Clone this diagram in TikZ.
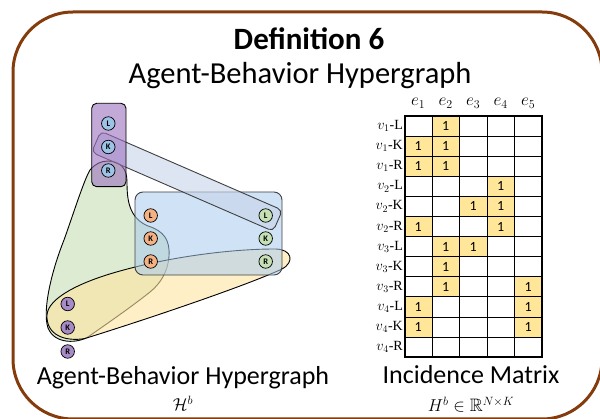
\documentclass[tikz,border=0pt]{standalone}
\usepackage{amsmath}
\usepackage{amssymb}
\usepackage{fontspec}
\setmainfont{Carlito}
\newfontfamily\cellfont{Liberation Serif}
\usetikzlibrary{backgrounds,calc}

\definecolor{framebrown}{HTML}{843C0C}
\definecolor{vblue}{HTML}{9DC3E6}
\definecolor{vorange}{HTML}{F4B183}
\definecolor{vgreen}{HTML}{C5E0B4}
\definecolor{vpurple}{HTML}{A78BC6}
\definecolor{edgepurple}{HTML}{9B70BE}
\definecolor{edgegreen}{HTML}{C6DEB6}
\definecolor{edgeyellow}{HTML}{FDE4A0}
\definecolor{edgeblue}{HTML}{A9CBEE}
\definecolor{edgeband}{HTML}{C8D4E9}
\definecolor{cellyellow}{HTML}{FFE699}

\begin{document}
\begin{tikzpicture}[x=1pt, y=-1pt,
  vtx/.style={circle, draw=black, line width=0.7pt, minimum size=13.5pt, inner sep=0pt, font=\fontsize{8.5}{8.5}\selectfont\bfseries},
  hedge/.style={draw=black, line width=0.9pt, fill opacity=0.6},
  cell/.style={fill=cellyellow, minimum width=27.5pt, minimum height=20.1pt, inner sep=0pt, font=\fontsize{14}{14}\selectfont},
  rowlab/.style={anchor=east, inner sep=1pt, font=\cellfont\fontsize{14}{14}\selectfont},
  collab/.style={anchor=base, font=\fontsize{17}{17}\selectfont},
  caption/.style={anchor=base, inner sep=0pt, font=\fontsize{26}{26}\selectfont},
  capsym/.style={anchor=base, inner sep=0pt, font=\fontsize{18}{18}\selectfont}]
  \useasboundingbox (0,0) rectangle (600,419);
  \draw[framebrown, line width=3pt, rounded corners=60pt] (13,12) rectangle (602,419);
  % titles
  \node[anchor=base, font=\fontsize{31}{31}\selectfont\bfseries] (deftitle) at (309,50) {Definition 6};
  \node[anchor=base, font=\fontsize{30.5}{30.5}\selectfont] (subtitle) at (300,84) {Agent-Behavior Hypergraph};
  % agents
  \node[vtx, fill=vblue] (v1L) at (108.3,123.5) {L};
  \node[vtx, fill=vblue] (v1K) at (108.3,147) {K};
  \node[vtx, fill=vblue] (v1R) at (108.3,170.5) {R};
  \node[vtx, fill=vorange] (v2L) at (150.7,215.5) {L};
  \node[vtx, fill=vorange] (v2K) at (150.7,238.5) {K};
  \node[vtx, fill=vorange] (v2R) at (150.7,261.5) {R};
  \node[vtx, fill=vgreen] (v3L) at (265.7,215.5) {L};
  \node[vtx, fill=vgreen] (v3K) at (265.7,238.5) {K};
  \node[vtx, fill=vgreen] (v3R) at (265.7,261.5) {R};
  \node[vtx, fill=vpurple] (v4L) at (67.7,304) {L};
  \node[vtx, fill=vpurple] (v4K) at (67.7,327.5) {K};
  \node[vtx, fill=vpurple] (v4R) at (67.7,351.5) {R};
  % hyperedges
  \begin{scope}[on background layer]
    \draw[hedge, fill=edgegreen] (108,161)
      .. controls (120,161) and (127,168) .. (127,182)
      .. controls (127,200) and (129,218) .. (148,226)
      .. controls (164,231) and (170,240) .. (169,256)
      .. controls (168,272) and (160,284) .. (150,292)
      .. controls (130,308) and (105,325) .. (88,337)
      .. controls (78,343) and (55,345) .. (48,328)
      .. controls (42,310) and (52,270) .. (64,240)
      .. controls (74,212) and (84,180) .. (90,170)
      .. controls (95,164) and (101,161) .. (108,161) -- cycle;
    \draw[hedge, fill=edgeyellow] (85,338.5)
      .. controls (65,342) and (46,335) .. (47,315)
      .. controls (48,298) and (80,282) .. (120,271)
      .. controls (170,257) and (230,249) .. (275,249)
      .. controls (292,249) and (295,262) .. (282,269)
      .. controls (250,284) and (160,315) .. (85,338.5) -- cycle;
    \draw[hedge, draw=black!75, fill=edgeblue, fill opacity=0.55, rounded corners=8pt] (135,192) rectangle (282,275);
    \node[hedge, draw=black!75, fill=edgeband, rounded corners=5pt, rotate=-23.5, minimum width=198pt, minimum height=23pt] (band) at ($(v1K)!0.5!(v3L)$) {};
    \draw[hedge, fill=edgepurple, rounded corners=5pt] (91.7,103.3) rectangle (126,186.7);
  \end{scope}
  \node[caption] (hglabel) at (183,385) {Agent-Behavior Hypergraph};
  \node[capsym] (hgsym) at (183,411) {$\mathcal{H}^b$};
  % incidence matrix
  \node[cell] (c1-2) at (445.75,126.05) {1};
  \node[cell] (c2-1) at (418.25,146.15) {1};
  \node[cell] (c2-2) at (445.75,146.15) {1};
  \node[cell] (c3-1) at (418.25,166.25) {1};
  \node[cell] (c3-2) at (445.75,166.25) {1};
  \node[cell] (c4-4) at (500.75,186.35) {1};
  \node[cell] (c5-3) at (473.25,206.45) {1};
  \node[cell] (c5-4) at (500.75,206.45) {1};
  \node[cell] (c6-1) at (418.25,226.55) {1};
  \node[cell] (c6-4) at (500.75,226.55) {1};
  \node[cell] (c7-2) at (445.75,246.65) {1};
  \node[cell] (c7-3) at (473.25,246.65) {1};
  \node[cell] (c8-2) at (445.75,266.75) {1};
  \node[cell] (c9-2) at (445.75,286.85) {1};
  \node[cell] (c9-5) at (528.25,286.85) {1};
  \node[cell] (c10-1) at (418.25,306.95) {1};
  \node[cell] (c10-5) at (528.25,306.95) {1};
  \node[cell] (c11-1) at (418.25,327.05) {1};
  \node[cell] (c11-5) at (528.25,327.05) {1};
  \draw[black, line width=0.8pt] (404.5,136.1) -- (542,136.1);
  \draw[black, line width=0.8pt] (404.5,156.2) -- (542,156.2);
  \draw[black, line width=0.8pt] (404.5,176.3) -- (542,176.3);
  \draw[black, line width=0.8pt] (404.5,196.4) -- (542,196.4);
  \draw[black, line width=0.8pt] (404.5,216.5) -- (542,216.5);
  \draw[black, line width=0.8pt] (404.5,236.6) -- (542,236.6);
  \draw[black, line width=0.8pt] (404.5,256.7) -- (542,256.7);
  \draw[black, line width=0.8pt] (404.5,276.8) -- (542,276.8);
  \draw[black, line width=0.8pt] (404.5,296.9) -- (542,296.9);
  \draw[black, line width=0.8pt] (404.5,317) -- (542,317);
  \draw[black, line width=0.8pt] (404.5,337.1) -- (542,337.1);
  \draw[black, line width=0.8pt] (432,116) -- (432,357.2);
  \draw[black, line width=0.8pt] (459.5,116) -- (459.5,357.2);
  \draw[black, line width=0.8pt] (487,116) -- (487,357.2);
  \draw[black, line width=0.8pt] (514.5,116) -- (514.5,357.2);
  \draw[black, line width=2pt] (404.5,116) rectangle (542,357.2);
  \node[collab] (e1) at (418.25,106) {$e_1$};
  \node[collab] (e2) at (445.75,106) {$e_2$};
  \node[collab] (e3) at (473.25,106) {$e_3$};
  \node[collab] (e4) at (500.75,106) {$e_4$};
  \node[collab] (e5) at (528.25,106) {$e_5$};
  \node[rowlab] (r1) at (404,126.05) {$v_1$-L};
  \node[rowlab] (r2) at (404,146.15) {$v_1$-K};
  \node[rowlab] (r3) at (404,166.25) {$v_1$-R};
  \node[rowlab] (r4) at (404,186.35) {$v_2$-L};
  \node[rowlab] (r5) at (404,206.45) {$v_2$-K};
  \node[rowlab] (r6) at (404,226.55) {$v_2$-R};
  \node[rowlab] (r7) at (404,246.65) {$v_3$-L};
  \node[rowlab] (r8) at (404,266.75) {$v_3$-K};
  \node[rowlab] (r9) at (404,286.85) {$v_3$-R};
  \node[rowlab] (r10) at (404,306.95) {$v_4$-L};
  \node[rowlab] (r11) at (404,327.05) {$v_4$-K};
  \node[rowlab] (r12) at (404,347.15) {$v_4$-R};
  \node[caption] (mxlabel) at (471,384) {Incidence Matrix};
  \node[capsym] (mxsym) at (471,412) {$H^b \in \mathbb{R}^{N\times K}$};
\end{tikzpicture}
\end{document}
